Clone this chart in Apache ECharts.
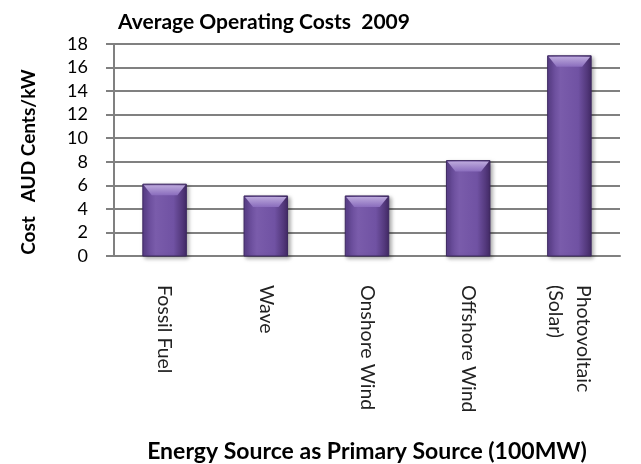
<!DOCTYPE html>
<html><head><meta charset="utf-8">
<script src="https://cdn.jsdelivr.net/npm/echarts@6/dist/echarts.min.js"></script>
<style>html,body{margin:0;padding:0;background:#fff}#c{width:641px;height:464px}</style>
</head><body><div id="c"></div>
<script>
const categories = ['Fossil Fuel', 'Wave', 'Onshore Wind', 'Offshore Wind', 'Photovoltaic\n(Solar)'];
const costs = [6.1, 5.1, 5.1, 8.1, 17.0];
const yTicks = [0, 2, 4, 6, 8, 10, 12, 14, 16, 18];

const chart = echarts.init(document.getElementById('c'));
const F = 'Lato, "Open Sans", sans-serif';

function renderBar(params, api) {
  const i = api.value(0), v = api.value(1);
  const top = api.coord([i, v]);
  const base = api.coord([i, 0]);
  const w = api.size([1, 0])[0] * 0.43;
  const x0 = top[0] - w / 2, x1 = top[0] + w / 2;
  const h = base[1] - top[1];
  const bev = 11, inset = 9;
  return {
    type: 'group',
    children: [
      {
        type: 'rect',
        shape: { x: x0, y: top[1], width: w, height: h },
        style: {
          fill: new echarts.graphic.LinearGradient(0, 0, 1, 0, [
            { offset: 0, color: '#5b3f8c' },
            { offset: 0.3, color: '#7a5cab' },
            { offset: 0.7, color: '#7052a3' },
            { offset: 1, color: '#432a66' }
          ]),
          stroke: '#3d2860', lineWidth: 1,
          shadowColor: 'rgba(0,0,0,0.35)', shadowBlur: 4, shadowOffsetX: 2, shadowOffsetY: 2
        }
      },
      {
        type: 'polygon',
        shape: { points: [[x0 + 1, top[1] + 1], [x1 - 1, top[1] + 1], [x1 - inset, top[1] + bev], [x0 + inset, top[1] + bev]] },
        style: {
          fill: new echarts.graphic.LinearGradient(0, 0, 0, 1, [
            { offset: 0, color: '#bca9dc' },
            { offset: 1, color: '#8a6dbd' }
          ])
        }
      }
    ]
  };
}

chart.setOption({
  animation: false,
  title: {
    text: 'Average Operating Costs  2009', left: 259, top: 7, textAlign: 'center',
    textStyle: { fontFamily: F, fontWeight: 'bold', fontSize: 21, color: '#000' }
  },
  grid: { left: 114, right: 21, top: 44, bottom: 206 },
  xAxis: {
    type: 'category', data: categories,
    axisLine: { lineStyle: { color: '#808080', width: 2 } },
    axisTick: { show: false },
    axisLabel: { rotate: -90, margin: 29, fontFamily: F, fontSize: 19.5, color: '#222', lineHeight: 28 },
    name: 'Energy Source as Primary Source (100MW)', nameLocation: 'middle', nameGap: 184,
    nameTextStyle: { fontFamily: F, fontWeight: 'bold', fontSize: 23, color: '#000' }
  },
  yAxis: {
    type: 'value', min: yTicks[0], max: yTicks[yTicks.length - 1], interval: yTicks[1] - yTicks[0],
    axisLine: { show: true, lineStyle: { color: '#808080', width: 2 } },
    axisTick: { show: true, length: 8, lineStyle: { color: '#808080', width: 2 } },
    splitLine: { lineStyle: { color: '#808080', width: 2 } },
    axisLabel: { margin: 26, fontFamily: F, fontSize: 18, color: '#000' }
  },
  graphic: [{
    type: 'text', x: 29, y: 162, rotation: Math.PI / 2,
    style: {
      text: 'Cost   AUD Cents/kW', fontFamily: F, fontWeight: 'bold', fontSize: 19,
      fill: '#000', align: 'center', verticalAlign: 'middle'
    }
  }],
  series: [{
    type: 'custom', renderItem: renderBar,
    data: costs.map((v, i) => [i, v]),
    encode: { x: 0, y: 1 }
  }]
});
</script></body></html>
